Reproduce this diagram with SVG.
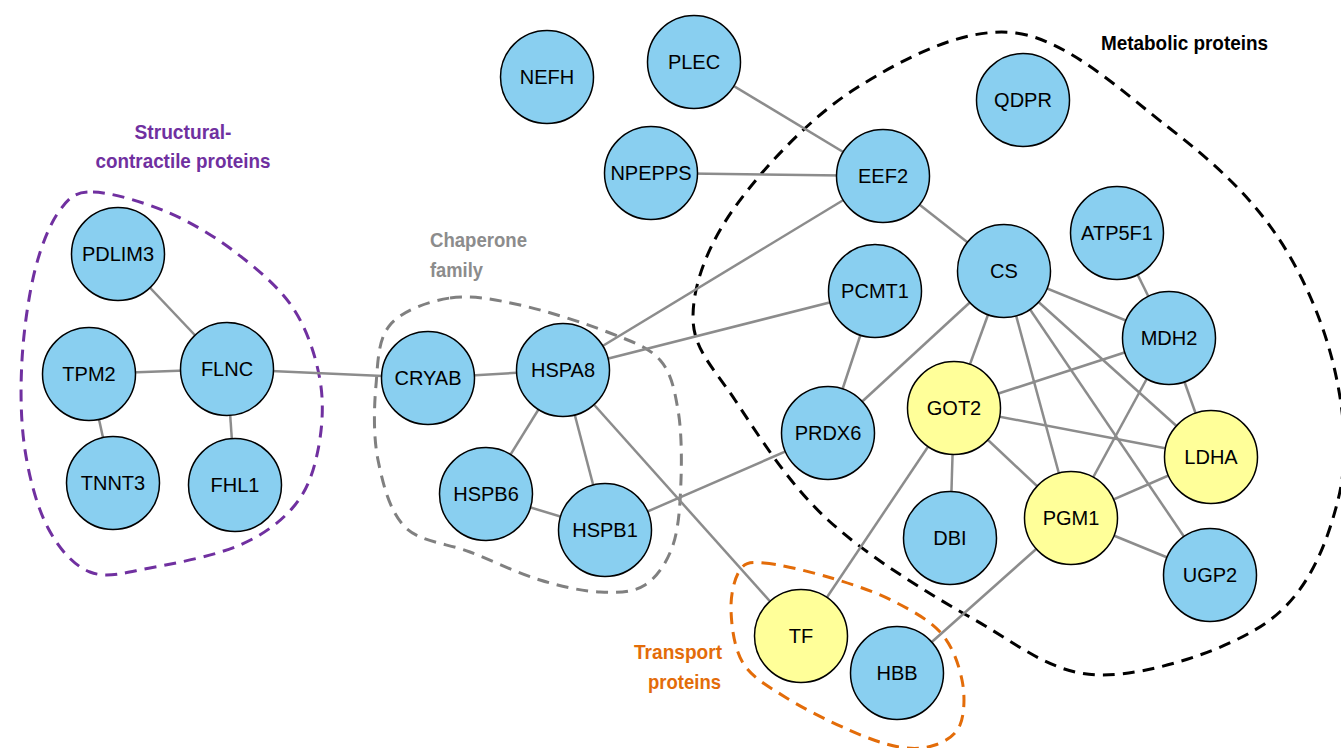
<svg xmlns="http://www.w3.org/2000/svg" width="1341" height="748" viewBox="0 0 1341 748">
<style>
.n circle{stroke:#000;stroke-width:1.5}
.b{fill:#89CFF0}
.y{fill:#FFFF99}
.n text{font-family:"Liberation Sans",Arial,sans-serif;font-size:20px;text-anchor:middle;fill:#000}
#edges line{stroke:#8C8C8C;stroke-width:2.5}
.grp{fill:none;stroke-width:3;stroke-dasharray:12 8}
.lbl{font-family:"Liberation Sans",Arial,sans-serif;font-weight:bold;font-size:21px}
</style>
<rect width="1341" height="748" fill="#fff"/>
<g id="groups">
<path id="metabolic-outline" class="grp" stroke="#000" stroke-dasharray="10 7" d="M1016,33 C1067.7,39.7 1124.8,93.7 1168,127 C1211.2,160.3 1247.3,193 1275,233 C1302.7,273 1323.5,322.5 1334,367 C1344.5,411.5 1348.7,457.8 1338,500 C1327.3,542.2 1309.3,590.8 1270,620 C1230.7,649.2 1151.2,675 1102,675 C1052.8,675 1020.7,645.8 975,620 C929.3,594.2 868,556.7 828,520 C788,483.3 757.5,433.8 735,400 C712.5,366.2 693,349.2 693,317 C693,284.8 707.5,245.3 735,207 C762.5,168.7 811.2,116 858,87 C904.8,58 964.3,26.3 1016,33 Z"/>
<path id="structural-outline" class="grp" stroke="#7030A0" d="M93,192 C110.8,192.3 143.3,202 167,212 C190.7,222 214,236 235,252 C256,268 278.8,286.7 293,308 C307.2,329.3 315.8,356.3 320,380 C324.2,403.7 322.2,429.2 318,450 C313.8,470.8 308,489.2 295,505 C282,520.8 264.2,534.5 240,545 C215.8,555.5 175,563.5 150,568 C125,572.5 107,578.7 90,572 C73,565.3 58.8,548.3 48,528 C37.2,507.7 29.3,478 25,450 C20.7,422 20.3,390 22,360 C23.7,330 28.7,295 35,270 C41.3,245 50.3,223 60,210 C69.7,197 75.2,191.7 93,192 Z"/>
<path id="chaperone-outline" class="grp" stroke="#808080" d="M450,298 C471.7,294.7 493.3,299.2 520,305 C546.7,310.8 586.7,323.8 610,333 C633.3,342.2 648.7,347.2 660,360 C671.3,372.8 674.5,390 678,410 C681.5,430 681.8,457.5 681,480 C680.2,502.5 679,527.5 673,545 C667,562.5 657.2,577.2 645,585 C632.8,592.8 617.5,592.8 600,592 C582.5,591.2 561.7,586.7 540,580 C518.3,573.3 492.5,560.8 470,552 C447.5,543.2 420.3,542.3 405,527 C389.7,511.7 382.8,483.7 378,460 C373.2,436.3 374,407.5 376,385 C378,362.5 377.7,339.5 390,325 C402.3,310.5 428.3,301.3 450,298 Z"/>
<path id="transport-outline" class="grp" stroke="#E36C09" d="M764,563 C778.7,564.2 806.8,570.8 828,577 C849.2,583.2 872.2,590.7 891,600 C909.8,609.3 929.2,619.7 941,633 C952.8,646.3 958.8,664.7 962,680 C965.2,695.3 964.5,714.2 960,725 C955.5,735.8 945.2,741.3 935,745 C924.8,748.7 913.3,749.5 899,747 C884.7,744.5 868,738.3 849,730 C830,721.7 802.7,708.2 785,697 C767.3,685.8 752,677.5 743,663 C734,648.5 731.5,625.5 731,610 C730.5,594.5 734.5,577.8 740,570 C745.5,562.2 749.3,561.8 764,563 Z"/>
</g>
<g id="labels" class="lbl">
<text x="183" y="139" fill="#7030A0" text-anchor="middle" textLength="97" lengthAdjust="spacingAndGlyphs">Structural-</text>
<text x="183" y="168" fill="#7030A0" text-anchor="middle" textLength="175" lengthAdjust="spacingAndGlyphs">contractile proteins</text>
<text x="430" y="247" fill="#8C8C8C" textLength="97" lengthAdjust="spacingAndGlyphs">Chaperone</text>
<text x="430" y="277" fill="#8C8C8C" textLength="53" lengthAdjust="spacingAndGlyphs">family</text>
<text x="1101" y="50" fill="#000" textLength="167" lengthAdjust="spacingAndGlyphs">Metabolic proteins</text>
<text x="634" y="659" fill="#E36C09" textLength="88" lengthAdjust="spacingAndGlyphs">Transport</text>
<text x="648" y="689" fill="#E36C09" textLength="73" lengthAdjust="spacingAndGlyphs">proteins</text>
</g>
<g id="edges">
<line x1="118" y1="254" x2="227" y2="369"/>
<line x1="89" y1="374" x2="227" y2="369"/>
<line x1="89" y1="374" x2="113" y2="483"/>
<line x1="227" y1="369" x2="235" y2="485"/>
<line x1="227" y1="369" x2="428" y2="378"/>
<line x1="428" y1="378" x2="563" y2="370"/>
<line x1="563" y1="370" x2="486" y2="494"/>
<line x1="563" y1="370" x2="605" y2="530"/>
<line x1="486" y1="494" x2="605" y2="530"/>
<line x1="563" y1="370" x2="883" y2="176"/>
<line x1="563" y1="370" x2="875" y2="291"/>
<line x1="563" y1="370" x2="801" y2="636"/>
<line x1="605" y1="530" x2="828" y2="433"/>
<line x1="694" y1="62" x2="883" y2="176"/>
<line x1="651" y1="173" x2="883" y2="176"/>
<line x1="883" y1="176" x2="1004" y2="271"/>
<line x1="875" y1="291" x2="828" y2="433"/>
<line x1="1004" y1="271" x2="828" y2="433"/>
<line x1="1004" y1="271" x2="954" y2="408"/>
<line x1="1004" y1="271" x2="1169" y2="338"/>
<line x1="1004" y1="271" x2="1071" y2="518"/>
<line x1="1004" y1="271" x2="1211" y2="457"/>
<line x1="1004" y1="271" x2="1210" y2="575"/>
<line x1="1117" y1="233" x2="1169" y2="338"/>
<line x1="1169" y1="338" x2="954" y2="408"/>
<line x1="1169" y1="338" x2="1211" y2="457"/>
<line x1="1169" y1="338" x2="1071" y2="518"/>
<line x1="954" y1="408" x2="1211" y2="457"/>
<line x1="954" y1="408" x2="1071" y2="518"/>
<line x1="954" y1="408" x2="950" y2="538"/>
<line x1="954" y1="408" x2="801" y2="636"/>
<line x1="1071" y1="518" x2="1211" y2="457"/>
<line x1="1071" y1="518" x2="1210" y2="575"/>
<line x1="1071" y1="518" x2="897" y2="673"/>
</g>
<g id="nodes">
<g id="PDLIM3" class="n"><circle class="b" cx="118" cy="254" r="46.5"/><text x="118" y="261">PDLIM3</text></g>
<g id="TPM2" class="n"><circle class="b" cx="89" cy="374" r="46.5"/><text x="89" y="381">TPM2</text></g>
<g id="FLNC" class="n"><circle class="b" cx="227" cy="369" r="46.5"/><text x="227" y="376">FLNC</text></g>
<g id="TNNT3" class="n"><circle class="b" cx="113" cy="483" r="46.5"/><text x="113" y="490">TNNT3</text></g>
<g id="FHL1" class="n"><circle class="b" cx="235" cy="485" r="46.5"/><text x="235" y="492">FHL1</text></g>
<g id="CRYAB" class="n"><circle class="b" cx="428" cy="378" r="46.5"/><text x="428" y="385">CRYAB</text></g>
<g id="HSPA8" class="n"><circle class="b" cx="563" cy="370" r="46.5"/><text x="563" y="377">HSPA8</text></g>
<g id="HSPB6" class="n"><circle class="b" cx="486" cy="494" r="46.5"/><text x="486" y="501">HSPB6</text></g>
<g id="HSPB1" class="n"><circle class="b" cx="605" cy="530" r="46.5"/><text x="605" y="537">HSPB1</text></g>
<g id="NEFH" class="n"><circle class="b" cx="547" cy="77" r="46.5"/><text x="547" y="84">NEFH</text></g>
<g id="PLEC" class="n"><circle class="b" cx="694" cy="62" r="46.5"/><text x="694" y="69">PLEC</text></g>
<g id="NPEPPS" class="n"><circle class="b" cx="651" cy="173" r="46.5"/><text x="651" y="180">NPEPPS</text></g>
<g id="EEF2" class="n"><circle class="b" cx="883" cy="176" r="46.5"/><text x="883" y="183">EEF2</text></g>
<g id="QDPR" class="n"><circle class="b" cx="1023" cy="100" r="46.5"/><text x="1023" y="107">QDPR</text></g>
<g id="ATP5F1" class="n"><circle class="b" cx="1117" cy="233" r="46.5"/><text x="1117" y="240">ATP5F1</text></g>
<g id="CS" class="n"><circle class="b" cx="1004" cy="271" r="46.5"/><text x="1004" y="278">CS</text></g>
<g id="PCMT1" class="n"><circle class="b" cx="875" cy="291" r="46.5"/><text x="875" y="298">PCMT1</text></g>
<g id="MDH2" class="n"><circle class="b" cx="1169" cy="338" r="46.5"/><text x="1169" y="345">MDH2</text></g>
<g id="PRDX6" class="n"><circle class="b" cx="828" cy="433" r="46.5"/><text x="828" y="440">PRDX6</text></g>
<g id="GOT2" class="n"><circle class="y" cx="954" cy="408" r="46.5"/><text x="954" y="415">GOT2</text></g>
<g id="LDHA" class="n"><circle class="y" cx="1211" cy="457" r="46.5"/><text x="1211" y="464">LDHA</text></g>
<g id="PGM1" class="n"><circle class="y" cx="1071" cy="518" r="46.5"/><text x="1071" y="525">PGM1</text></g>
<g id="DBI" class="n"><circle class="b" cx="950" cy="538" r="46.5"/><text x="950" y="545">DBI</text></g>
<g id="UGP2" class="n"><circle class="b" cx="1210" cy="575" r="46.5"/><text x="1210" y="582">UGP2</text></g>
<g id="TF" class="n"><circle class="y" cx="801" cy="636" r="46.5"/><text x="801" y="643">TF</text></g>
<g id="HBB" class="n"><circle class="b" cx="897" cy="673" r="46.5"/><text x="897" y="680">HBB</text></g>
</g>
</svg>
